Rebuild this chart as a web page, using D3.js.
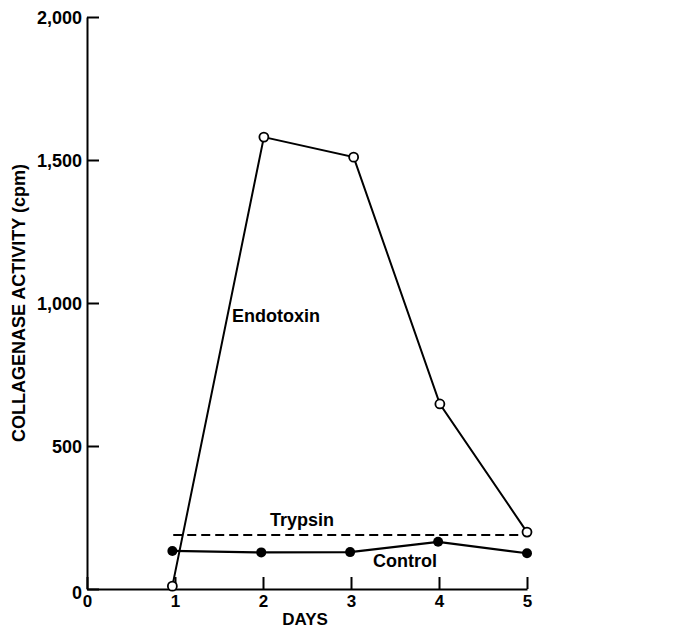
<!DOCTYPE html>
<html>
<head>
<meta charset="utf-8">
<script src="https://cdn.jsdelivr.net/npm/d3@7/dist/d3.min.js"></script>
<style>
  body { margin: 0; background: #fff; }
  text { font-family: "Liberation Sans", Arial, sans-serif; font-weight: bold; fill: #000; }
</style>
</head>
<body>
<svg id="chart" width="695" height="629"></svg>
<script>
// values
const endoDays = [0.97, 2.01, 3.03, 4.01, 5.0];
const endotoxin = [10, 1580, 1510, 647, 199];
const controlDays = [0.97, 1.98, 2.99, 3.99, 5.0];
const control = [133, 128, 129, 165, 125];
const trypsinDays = [0.98, 4.96];
const trypsin = [189, 189];
const xTicks = [0, 1, 2, 3, 4, 5];
const yTicks = [0, 500, 1000, 1500, 2000];

const svg = d3.select('#chart');

const x = d3.scaleLinear().domain([0, 5]).range([87, 527]);
const y = d3.scaleLinear().domain([0, 2000]).range([589, 17]);

// axes
const yAxis = d3.axisLeft(y)
  .tickValues(yTicks)
  .tickFormat(d3.format(','))
  .tickSizeInner(-12)
  .tickSizeOuter(0)
  .tickPadding(5);

const xAxis = d3.axisBottom(x)
  .tickValues(xTicks)
  .tickFormat(d3.format('d'))
  .tickSizeInner(-12)
  .tickSizeOuter(0)
  .tickPadding(8);

const gy = svg.append('g')
  .attr('transform', `translate(${x(0)},0)`)
  .call(yAxis);
gy.selectAll('text').attr('font-size', 18).attr('dy', '0.36em');
gy.select('.tick:first-of-type text').attr('dy', '0.5em');

const gx = svg.append('g')
  .attr('transform', `translate(0,${y(0)})`)
  .call(xAxis);
gx.selectAll('text').attr('font-size', 17).attr('dy', '0.6em');

svg.selectAll('.domain, .tick line')
  .attr('stroke', '#000')
  .attr('stroke-width', 2);

// axis titles
svg.append('text')
  .attr('transform', 'translate(25,303) rotate(-90)')
  .attr('text-anchor', 'middle')
  .attr('font-size', 18)
  .text('COLLAGENASE ACTIVITY (cpm)');

svg.append('text')
  .attr('x', 305)
  .attr('y', 625)
  .attr('text-anchor', 'middle')
  .attr('font-size', 17)
  .text('DAYS');

const line = d3.line()
  .x(d => x(d[0]))
  .y(d => y(d[1]));

// trypsin dashed
svg.append('path')
  .datum(d3.zip(trypsinDays, trypsin))
  .attr('d', line)
  .attr('fill', 'none')
  .attr('stroke', '#000')
  .attr('stroke-width', 2)
  .attr('stroke-dasharray', '9,5');

// control
const ctrl = d3.zip(controlDays, control);
svg.append('path')
  .datum(ctrl)
  .attr('d', line)
  .attr('fill', 'none')
  .attr('stroke', '#000')
  .attr('stroke-width', 2.2);
svg.selectAll('circle.ctrl')
  .data(ctrl)
  .enter().append('circle')
  .attr('class', 'ctrl')
  .attr('cx', d => x(d[0]))
  .attr('cy', d => y(d[1]))
  .attr('r', 5)
  .attr('fill', '#000');

// endotoxin
const endo = d3.zip(endoDays, endotoxin);
svg.append('path')
  .datum(endo)
  .attr('d', line)
  .attr('fill', 'none')
  .attr('stroke', '#000')
  .attr('stroke-width', 2);
svg.selectAll('circle.endo')
  .data(endo)
  .enter().append('circle')
  .attr('class', 'endo')
  .attr('cx', d => x(d[0]))
  .attr('cy', d => y(d[1]))
  .attr('r', 4.5)
  .attr('fill', '#fff')
  .attr('stroke', '#000')
  .attr('stroke-width', 1.8);

// series labels
svg.append('text').attr('x', 276).attr('y', 322)
  .attr('text-anchor', 'middle').attr('font-size', 18).text('Endotoxin');
svg.append('text').attr('x', 302).attr('y', 526)
  .attr('text-anchor', 'middle').attr('font-size', 18).text('Trypsin');
svg.append('text').attr('x', 405).attr('y', 567)
  .attr('text-anchor', 'middle').attr('font-size', 18).text('Control');
</script>
</body>
</html>
